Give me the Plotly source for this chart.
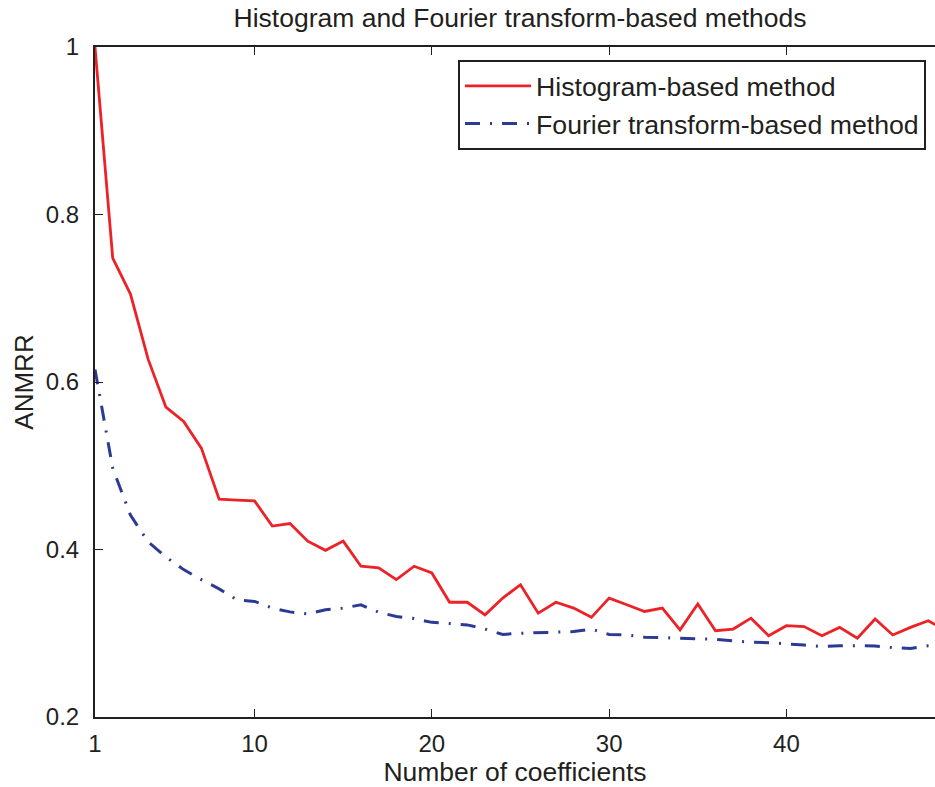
import plotly.graph_objects as go

coefficients = list(range(1, 50))

histogram_anmrr = [
    1.000, 0.748, 0.705, 0.627, 0.570, 0.553, 0.521, 0.460, 0.459, 0.458,
    0.428, 0.431, 0.410, 0.399, 0.410, 0.380, 0.378, 0.364, 0.380, 0.372,
    0.337, 0.337, 0.322, 0.342, 0.358, 0.324, 0.337, 0.330, 0.319, 0.342,
    0.334, 0.326, 0.330, 0.304, 0.335, 0.303, 0.305, 0.318, 0.297, 0.309,
    0.308, 0.297, 0.307, 0.294, 0.317, 0.298, 0.307, 0.315, 0.303,
]

fourier_anmrr = [
    0.615, 0.497, 0.441, 0.409, 0.391, 0.376, 0.364, 0.353, 0.340, 0.338,
    0.330, 0.3255, 0.323, 0.328, 0.330, 0.334, 0.325, 0.320, 0.3175, 0.313,
    0.3115, 0.310, 0.305, 0.2986, 0.300, 0.3007, 0.301, 0.302, 0.305, 0.2986,
    0.298, 0.2952, 0.2947, 0.294, 0.294, 0.2928, 0.291, 0.2893, 0.2887, 0.2878,
    0.286, 0.284, 0.285, 0.2851, 0.2848, 0.2828, 0.2818, 0.285, 0.2855,
]

x_tick_vals = [1, 10, 20, 30, 40]
x_tick_text = ["1", "10", "20", "30", "40"]
y_tick_vals = [0.2, 0.4, 0.6, 0.8, 1.0]
y_tick_text = ["0.2", "0.4", "0.6", "0.8", "1"]

FONT = "Liberation Sans, Arial, Helvetica, sans-serif"
INK = "#231F20"

W, H = 935, 787
L, T, B = 95, 47, 70
PW = W - L
PH = H - T - B

fig = go.Figure()
fig.add_trace(go.Scatter(
    x=coefficients, y=histogram_anmrr, mode="lines",
    name="Histogram-based method",
    line=dict(color="#EC2227", width=2.8),
))
fig.add_trace(go.Scatter(
    x=coefficients, y=fourier_anmrr, mode="lines",
    name="Fourier transform-based method",
    line=dict(color="#2B3A94", width=3, dash="15px,10px,2px,10px"),
))

fig.update_layout(
    width=W, height=H,
    margin=dict(l=L, r=0, t=T, b=B, autoexpand=False),
    paper_bgcolor="white", plot_bgcolor="white",
    font=dict(family=FONT, size=26, color=INK),
    title=dict(
        text="Histogram and Fourier transform-based methods",
        x=520 / W, xref="container", xanchor="center",
        y=1 - 18 / H, yref="container", yanchor="middle",
        font=dict(size=26.5, family=FONT, color=INK),
        automargin=False,
    ),
    showlegend=True,
    legend=dict(
        x=(458 - L) / PW, xanchor="left",
        y=1 - (60 - T) / PH, yanchor="top",
        bgcolor="white", bordercolor=INK, borderwidth=2,
        font=dict(size=26.7, family=FONT, color=INK),
        tracegroupgap=0, itemwidth=66,
    ),
    xaxis=dict(
        range=[1, 48.38], automargin=False,
        tickmode="array", tickvals=x_tick_vals, ticktext=x_tick_text,
        ticks="inside", ticklen=8, tickwidth=1.2, tickcolor=INK,
        showline=True, linecolor=INK, linewidth=2, mirror="ticks",
        showgrid=False, zeroline=False,
        tickfont=dict(size=24, family=FONT, color=INK),
        ticklabelstandoff=4,
        title=dict(text="Number of coefficients", standoff=4,
                   font=dict(size=26.5, family=FONT, color=INK)),
    ),
    yaxis=dict(
        range=[0.2, 1.0], automargin=False,
        tickmode="array", tickvals=y_tick_vals, ticktext=y_tick_text,
        ticks="inside", ticklen=8, tickwidth=1.2, tickcolor=INK,
        showline=True, linecolor=INK, linewidth=2, mirror=False,
        showgrid=False, zeroline=False,
        tickfont=dict(size=24, family=FONT, color=INK),
        ticklabelstandoff=9,
        title=dict(text="ANMRR", standoff=5,
                   font=dict(size=26, family=FONT, color=INK)),
    ),
)

fig.write_html(
    "out.html",
    config={"displayModeBar": False},
    post_script="document.body.style.margin='0';document.body.style.overflow='hidden';",
)
